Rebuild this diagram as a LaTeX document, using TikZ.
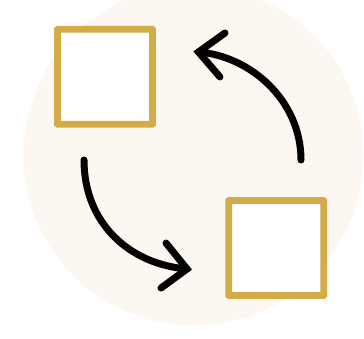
\documentclass[tikz,border=0pt]{standalone}
\definecolor{disc}{HTML}{FCF7F0}
\definecolor{gold}{HTML}{D3AB48}
\tikzset{
 sq/.style={draw=gold,line width=6.8pt,fill=white,minimum size=95pt,inner sep=0pt,rounded corners=0.5pt,shape=rectangle},
 arr/.style={draw=black,line width=7pt,line cap=round,line join=miter}
}
\begin{document}
\begin{tikzpicture}[x=1pt,y=-1pt]
\useasboundingbox (0,0) rectangle (364,339);
\fill[disc] (193.5,155.5) circle (170);
\node[sq] (a) at (105,76.8) {};
\node[sq] (b) at (276.3,248) {};
\coordinate (s1) at (301,160);
\coordinate (e1) at (198.5,52);
\coordinate (s2) at (84,160);
\coordinate (e2) at (187,269);
\draw[arr] (s1) .. controls (301,100) and (250,56) .. (e1);
\draw[arr] (225,33) -- (e1) -- (220,77);
\draw[arr] (s2) .. controls (84,222) and (128,264) .. (e2);
\draw[arr] (166,243) -- (e2) -- (161,288);
\end{tikzpicture}
\end{document}
